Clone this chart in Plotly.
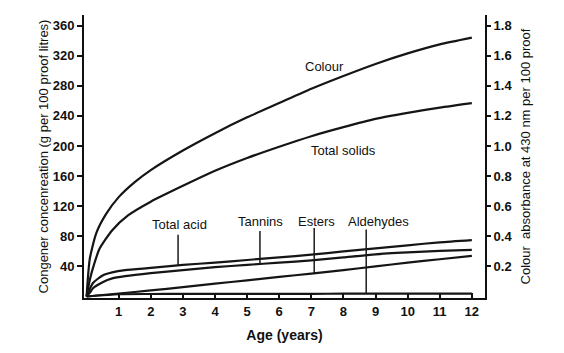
import numpy as np
import plotly.graph_objects as go

# ---- data ----
age_colour = [0, 0.1, 0.3, 0.6, 1, 1.5, 2, 3, 4, 5, 6, 7, 8, 9, 10, 11, 12]
colour = [0, 50, 84, 109, 132, 152, 168, 194, 217, 238, 257, 276, 293, 309, 323, 335, 344]

age_solids = [0, 0.1, 0.2, 0.4, 0.8, 1.3, 2, 3, 4, 5, 6, 7, 8, 9, 10, 11, 12]
total_solids = [0, 22, 38, 63, 88, 108, 126, 147, 167, 184, 199, 213, 225, 236, 244, 251, 257]

age_low = [0, 0.1, 0.2, 0.5, 0.8, 1.2, 2, 3, 4, 5, 6, 7, 8, 9, 10, 11, 12]
total_acid = [0, 10, 18, 28, 32, 35, 38, 42, 45, 48.5, 52, 55.5, 60, 64, 68, 72, 75]
tannins = [0, 5, 11, 19, 24, 27, 31, 35, 39, 42, 45, 48, 52, 56, 58.5, 60.5, 62]

age_esters = [0, 1, 2, 3, 4, 5, 6, 7, 8, 9, 10, 11, 12]
esters = [0, 4, 8, 12.5, 17, 21.5, 26, 30.5, 35, 40, 45, 49.5, 54]
aldehydes = [0, 3, 3.3, 3.4, 3.5, 3.5, 3.6, 3.6, 3.7, 3.7, 3.8, 3.8, 3.8]

x_ticks = list(range(1, 13))
left_ticks = [40, 80, 120, 160, 200, 240, 280, 320, 360]
right_ticks = [0.2, 0.4, 0.6, 0.8, 1.0, 1.2, 1.4, 1.6, 1.8]
right_labels = ["0.2", "0.4", "0.6", "0.8", "1.0", "1.2", "1.4", "1.6", "1.8"]

# curve labels: (text, x, y)
curve_labels = [("Colour", 7.4, 305), ("Total solids", 7.99, 194)]
# congener labels with leader lines: (text, text_x, text_y, leader_x, leader_top, series_x, series_y)
leader_labels = [
    ("Total acid", 2.88, 95, 2.85, 82, age_low, total_acid),
    ("Tannins", 5.43, 99, 5.40, 87, age_low, tannins),
    ("Esters", 7.16, 99, 7.09, 91, age_esters, esters),
    ("Aldehydes", 9.08, 99, 8.71, 89, age_esters, aldehydes),
]

FONT = "Liberation Sans, Arial, sans-serif"
INK = "#111111"

fig = go.Figure()
line_style = dict(color="#151515", width=2.2, shape="spline", smoothing=0.6)
for xs, ys, name in [
    (age_colour, colour, "Colour"),
    (age_solids, total_solids, "Total solids"),
    (age_low, total_acid, "Total acid"),
    (age_low, tannins, "Tannins"),
    (age_esters, esters, "Esters"),
    (age_esters, aldehydes, "Aldehydes"),
]:
    fig.add_trace(go.Scatter(x=xs, y=ys, mode="lines", line=line_style,
                             name=name, showlegend=False, hoverinfo="skip"))

for text, tx, ty, lx, ltop, sx, sy in leader_labels:
    yend = float(np.interp(lx, sx, sy))
    fig.add_trace(go.Scatter(x=[lx, lx], y=[ltop, yend], mode="lines",
                             line=dict(color="#1a1a1a", width=1.5),
                             showlegend=False, hoverinfo="skip"))
    fig.add_annotation(x=tx, y=ty, text=text, showarrow=False,
                       font=dict(family=FONT, size=13, color=INK))

for text, tx, ty in curve_labels:
    fig.add_annotation(x=tx, y=ty, text=text, showarrow=False,
                       font=dict(family=FONT, size=13, color=INK))

# invisible trace for the right axis
fig.add_trace(go.Scatter(x=[0], y=[0], yaxis="y2", mode="markers",
                         marker=dict(opacity=0), showlegend=False, hoverinfo="skip"))

y_lo, y_hi = -2, 374
fig.update_layout(
    width=564, height=353,
    margin=dict(l=84, r=79, t=15, b=45),
    paper_bgcolor="white", plot_bgcolor="white",
    font=dict(family=FONT, color=INK),
    xaxis=dict(range=[-0.08, 12.41], tickvals=x_ticks, ticks="inside", ticklen=5,
               tickwidth=1.5, tickcolor=INK, showline=True, linewidth=2, linecolor=INK,
               showgrid=False, zeroline=False,
               tickfont=dict(family=FONT, size=13, color=INK, weight="bold"),
               title=dict(text="<b>Age (years)</b>", font=dict(family=FONT, size=14, color=INK),
                          standoff=13)),
    yaxis=dict(range=[y_lo, y_hi], tickvals=left_ticks, ticks="outside", ticklen=5,
               tickwidth=1.5, tickcolor=INK, showline=True, linewidth=2, linecolor=INK,
               showgrid=False, zeroline=False,
               tickfont=dict(family=FONT, size=13, color=INK, weight="bold"),
               title=dict(text="Congener concenreation (g per 100 proof litres)",
                          font=dict(family=FONT, size=13, color=INK), standoff=1)),
    yaxis2=dict(range=[y_lo / 200, y_hi / 200], overlaying="y", side="right",
                tickvals=right_ticks, ticktext=right_labels, ticks="outside", ticklen=4,
                tickwidth=1.5, tickcolor=INK, showline=True, linewidth=2, linecolor=INK,
                showgrid=False, zeroline=False,
                tickfont=dict(family=FONT, size=13, color=INK, weight="bold"),
                title=dict(text="Colour  absorbance at 430 nm per 100 proof",
                           font=dict(family=FONT, size=13, color=INK), standoff=9)),
)

fig.write_html("out.html")
